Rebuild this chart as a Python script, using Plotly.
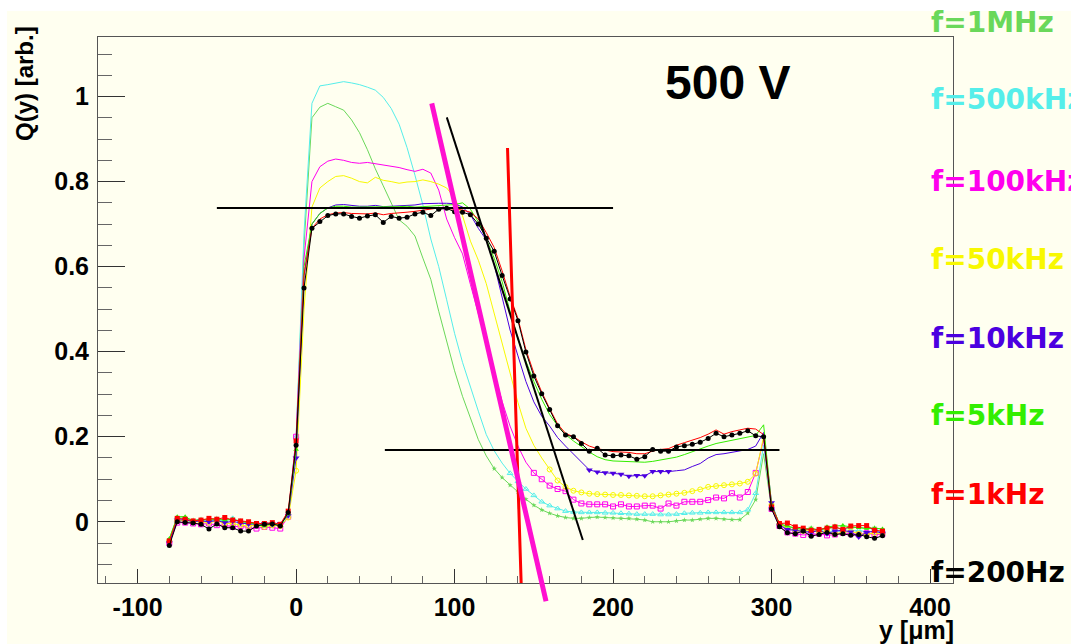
import plotly.graph_objects as go

# ---------------- data ----------------
y_um = list(range(-80, 371, 5))  # scan positions, 5 um step

q_200Hz = [-0.056, 0.000, -0.002, -0.003, -0.006, -0.017, -0.005, -0.014, -0.014, -0.022, -0.022, -0.010, -0.006, -0.005, -0.010, 0.022,
           0.180, 0.550, 0.690, 0.706, 0.720, 0.724, 0.724, 0.718, 0.714, 0.719, 0.722, 0.704, 0.718, 0.714, 0.716, 0.724, 0.728, 0.720, 0.735, 0.737, 0.729, 0.728, 0.722, 0.700,
           0.667, 0.636, 0.579, 0.524, 0.473, 0.399, 0.343, 0.301, 0.264, 0.226, 0.204, 0.200, 0.184, 0.166, 0.173, 0.157,
           0.155, 0.157, 0.155, 0.147, 0.153, 0.170, 0.166, 0.166, 0.176, 0.179, 0.182, 0.187, 0.196, 0.208, 0.200, 0.204, 0.208, 0.214, 0.202, 0.200,
           0.030, -0.012, -0.026, -0.028, -0.022, -0.034, -0.030, -0.025, -0.030, -0.028, -0.032, -0.030, -0.035, -0.039, -0.033]

q_1kHz = [-0.045, 0.008, 0.006, 0.002, 0.004, 0.008, 0.006, 0.010, 0.004, 0.002, 0.000, -0.004, -0.004, -0.002, -0.006, 0.025,
          0.190, 0.580, 0.690, 0.712, 0.722, 0.726, 0.727, 0.725, 0.725, 0.724, 0.726, 0.722, 0.725, 0.726, 0.728, 0.730, 0.733, 0.735, 0.738, 0.737, 0.735, 0.733, 0.728, 0.712,
          0.680, 0.645, 0.590, 0.530, 0.478, 0.405, 0.350, 0.305, 0.266, 0.230, 0.208, 0.200, 0.188, 0.178, 0.172, 0.168,
          0.165, 0.164, 0.163, 0.160, 0.160, 0.166, 0.170, 0.172, 0.180, 0.186, 0.192, 0.198, 0.206, 0.216, 0.206, 0.212, 0.216, 0.220, 0.218, 0.205,
          0.035, -0.004, -0.003, -0.012, -0.015, -0.020, -0.018, -0.015, -0.012, -0.018, -0.010, -0.009, -0.009, -0.020, -0.022]

q_5kHz = [-0.040, 0.012, 0.012, 0.002, 0.004, 0.006, 0.006, 0.004, 0.006, 0.000, -0.002, -0.006, -0.010, -0.003, -0.008, 0.018,
          0.170, 0.600, 0.700, 0.725, 0.738, 0.742, 0.742, 0.740, 0.740, 0.741, 0.740, 0.740, 0.740, 0.741, 0.742, 0.740, 0.741, 0.742, 0.743, 0.744, 0.746, 0.750, 0.735, 0.705,
          0.665, 0.620, 0.565, 0.495, 0.430, 0.378, 0.330, 0.288, 0.252, 0.226, 0.205, 0.190, 0.176, 0.164, 0.153, 0.146,
          0.143, 0.142, 0.141, 0.140, 0.140, 0.142, 0.145, 0.148, 0.152, 0.158, 0.165, 0.172, 0.178, 0.184, 0.188, 0.192, 0.196, 0.200, 0.203, 0.228,
          0.040, -0.005, -0.010, -0.015, -0.018, -0.016, -0.020, -0.012, -0.010, -0.009, -0.012, -0.014, -0.016, -0.015, -0.017]

q_10kHz = [-0.050, 0.004, 0.005, 0.000, 0.002, 0.000, 0.003, -0.002, 0.001, -0.003, -0.005, -0.006, -0.004, -0.006, -0.004, 0.015,
           0.150, 0.580, 0.700, 0.725, 0.738, 0.745, 0.746, 0.744, 0.742, 0.742, 0.744, 0.741, 0.742, 0.742, 0.744, 0.745, 0.748, 0.749, 0.749, 0.749, 0.748, 0.740, 0.722, 0.690,
           0.663, 0.605, 0.528, 0.451, 0.390, 0.330, 0.282, 0.248, 0.225, 0.198, 0.178, 0.160, 0.140, 0.122, 0.117, 0.115,
           0.114, 0.112, 0.107, 0.109, 0.108, 0.118, 0.118, 0.118, 0.120, 0.122, 0.130, 0.137, 0.150, 0.158, 0.160, 0.163, 0.166, 0.170, 0.178, 0.210,
           0.045, -0.008, -0.018, -0.020, -0.022, -0.025, -0.020, -0.028, -0.022, -0.020, -0.024, -0.036, -0.025, -0.022, -0.027]

q_50kHz = [-0.045, 0.002, 0.004, 0.000, 0.000, -0.002, 0.002, -0.004, -0.004, -0.008, -0.010, -0.008, -0.012, -0.008, -0.010, 0.010,
           0.120, 0.500, 0.740, 0.785, 0.800, 0.812, 0.814, 0.808, 0.800, 0.797, 0.810, 0.803, 0.800, 0.796, 0.799, 0.800, 0.804, 0.800, 0.794, 0.785, 0.762, 0.720, 0.660, 0.615,
           0.560, 0.490, 0.415, 0.345, 0.280, 0.220, 0.180, 0.150, 0.123, 0.097, 0.082, 0.073, 0.069, 0.066, 0.065, 0.064,
           0.063, 0.063, 0.062, 0.061, 0.060, 0.060, 0.062, 0.064, 0.066, 0.068, 0.072, 0.076, 0.082, 0.084, 0.086, 0.088, 0.090, 0.094, 0.113, 0.200,
           0.040, -0.005, -0.015, -0.020, -0.022, -0.020, -0.025, -0.022, -0.028, -0.025, -0.022, -0.028, -0.030, -0.026, -0.028]

q_100kHz = [-0.050, -0.002, -0.002, -0.004, -0.006, -0.004, -0.008, -0.008, -0.012, -0.010, -0.014, -0.016, -0.012, -0.014, -0.016, 0.012,
            0.200, 0.620, 0.800, 0.835, 0.848, 0.853, 0.850, 0.845, 0.843, 0.845, 0.842, 0.838, 0.836, 0.833, 0.828, 0.824, 0.829, 0.820, 0.780, 0.712, 0.668, 0.630, 0.558, 0.490,
            0.425, 0.352, 0.283, 0.225, 0.178, 0.140, 0.115, 0.100, 0.085, 0.077, 0.072, 0.052, 0.043, 0.041, 0.041, 0.041,
            0.036, 0.041, 0.036, 0.036, 0.038, 0.038, 0.031, 0.043, 0.038, 0.047, 0.047, 0.047, 0.051, 0.057, 0.055, 0.067, 0.057, 0.070, 0.115, 0.194,
            0.030, -0.010, -0.025, -0.028, -0.031, -0.030, -0.028, -0.032, -0.030, -0.026, -0.028, -0.030, -0.027, -0.030, -0.029]

q_500kHz = [-0.045, 0.004, 0.002, 0.000, 0.003, 0.002, 0.004, 0.002, 0.008, -0.002, -0.004, -0.004, -0.006, -0.006, -0.008, 0.014,
            0.200, 0.680, 0.984, 1.025, 1.028, 1.032, 1.035, 1.032, 1.028, 1.022, 1.015, 0.998, 0.972, 0.935, 0.880, 0.815, 0.745, 0.665, 0.600, 0.522, 0.443, 0.375, 0.315, 0.260,
            0.205, 0.167, 0.138, 0.114, 0.095, 0.077, 0.062, 0.047, 0.038, 0.031, 0.025, 0.023, 0.022, 0.022, 0.022, 0.021,
            0.021, 0.020, 0.019, 0.018, 0.018, 0.018, 0.017, 0.017, 0.018, 0.020, 0.021, 0.021, 0.022, 0.022, 0.022, 0.022, 0.022, 0.028, 0.067, 0.180,
            0.035, -0.006, -0.015, -0.022, -0.020, -0.024, -0.018, -0.025, -0.020, -0.024, -0.022, -0.020, -0.024, -0.022, -0.024]

q_1MHz = [-0.040, 0.010, 0.008, 0.004, 0.006, 0.004, 0.008, 0.004, 0.006, 0.002, -0.002, -0.004, -0.006, -0.010, -0.006, 0.015,
          0.190, 0.650, 0.950, 0.975, 0.984, 0.976, 0.968, 0.945, 0.915, 0.875, 0.830, 0.790, 0.750, 0.710, 0.695, 0.672, 0.620, 0.570, 0.495, 0.425, 0.355, 0.295, 0.245, 0.193,
          0.155, 0.125, 0.104, 0.086, 0.070, 0.053, 0.039, 0.028, 0.020, 0.014, 0.010, 0.008, 0.008, 0.010, 0.011, 0.010,
          0.009, 0.008, 0.008, 0.006, 0.004, 0.000, 0.000, 0.000, 0.002, 0.004, 0.004, 0.006, 0.008, 0.008, 0.006, 0.005, 0.005, 0.020, 0.052, 0.160,
          0.030, -0.004, -0.012, -0.015, -0.018, -0.014, -0.020, -0.016, -0.014, -0.018, -0.015, -0.012, -0.016, -0.014, -0.018]

labels = ["f=1MHz", "f=500kHz", "f=100kHz", "f=50kHz", "f=10kHz", "f=5kHz", "f=1kHz", "f=200Hz"]
series = [q_1MHz, q_500kHz, q_100kHz, q_50kHz, q_10kHz, q_5kHz, q_1kHz, q_200Hz]

# straight reference lines (end points)
plateau_x = [-50, 200]
plateau_q = [0.738, 0.738]
floor_x = [56, 305]
floor_q = [0.169, 0.169]
slope_black_x = [95.1, 180.9]
slope_black_q = [0.951, -0.043]
edge_red_x = [133.4, 142.0]
edge_red_q = [0.879, -0.144]
slope_mag_x = [85.6, 157.7]
slope_mag_q = [0.984, -0.187]

x_tickvals = [-100, 0, 100, 200, 300, 400]
x_ticktext = ["-100", "0", "100", "200", "300", "400"]

# ---------------- styles ----------------
colors = ["#6ad85a", "#55eeea", "#ff00ee", "#f8f800", "#4b00e0", "#33ee00", "#ff0000", "#000000"]
symbols = ["star", "triangle-up-open", "square-open", "circle-open", "triangle-down", "triangle-up", "square", "circle"]
msizes = [4, 5, 5, 5, 6, 5, 5, 5]
mlinew = [0, 1, 1, 1, 0, 0, 0, 0]
# x-window in the middle of the scan where markers are drawn (tails always have markers)
mwin = [(125, 290), (135, 290), (150, 290), (160, 290), (185, 235), None, None, (-80, 370)]

W, H = 1071, 644
ML, MR, MT, MB = 98, 118, 37, 30
FRAME_BOTTOM = 583
plot_h = H - MT - MB
xr = [-125, 414.5]
yr = [-0.144, 1.140]
ydom0 = (H - MB - FRAME_BOTTOM) / plot_h
ppu = (FRAME_BOTTOM - MT) / (yr[1] - yr[0])
yr2 = [yr[0] - (H - MB - FRAME_BOTTOM) / ppu, yr[1]]


def px(xp):
    return (xp - ML) / (W - ML - MR)


def py(yp):
    return (H - MB - yp) / plot_h


fig = go.Figure()

for lab, q, col, sym, ms, mlw, win in zip(labels, series, colors, symbols, msizes, mlinew, mwin):
    fig.add_trace(go.Scatter(x=y_um, y=q, mode="lines", line=dict(color=col, width=1),
                             showlegend=False, hoverinfo="skip"))
    mx, my = [], []
    for xv, qv in zip(y_um, q):
        inwin = win is not None and win[0] <= xv <= win[1]
        if xv <= 0 or xv >= 300 or inwin:
            mx.append(xv)
            my.append(qv)
    mk = dict(symbol=sym, size=ms, color=col, line=dict(color=col, width=mlw))
    fig.add_trace(go.Scatter(x=mx, y=my, mode="markers", marker=mk,
                             showlegend=False, hoverinfo="skip"))

for lx, lq, col, wd in [(plateau_x, plateau_q, "#000000", 2),
                        (floor_x, floor_q, "#000000", 2),
                        (slope_black_x, slope_black_q, "#000000", 2),
                        (edge_red_x, edge_red_q, "#ff0000", 3),
                        (slope_mag_x, slope_mag_q, "#ff10d0", 5)]:
    fig.add_trace(go.Scatter(x=lx, y=lq, mode="lines", line=dict(color=col, width=wd),
                             yaxis="y2", showlegend=False, hoverinfo="skip"))

cream = "#fffff0"
tickfont = dict(family="Liberation Sans, Arial, sans-serif", size=25, color="#000000", weight="bold")

fig.update_layout(
    width=W, height=H, autosize=False,
    margin=dict(l=ML, r=MR, t=MT, b=MB, pad=0),
    paper_bgcolor=cream, plot_bgcolor="rgba(0,0,0,0)",
    xaxis=dict(range=xr, showgrid=False, zeroline=False, showline=True, linecolor="#555555", linewidth=1,
               mirror=True, ticks="inside", ticklen=14, tickwidth=1, tickcolor="#333333",
               tickmode="array", tickvals=x_tickvals, ticktext=x_ticktext, tickfont=tickfont,
               ticklabelstandoff=2,
               minor=dict(ticks="inside", ticklen=7, tickwidth=1, tickcolor="#666666", tickmode="linear", tick0=0, dtick=20),
               anchor="y"),
    yaxis=dict(range=yr, domain=[ydom0, 1], showgrid=False, zeroline=False, showline=True, linecolor="#555555",
               linewidth=1, mirror=True, ticks="inside", ticklen=27, tickwidth=1, tickcolor="#333333",
               tick0=0, dtick=0.2, tickfont=tickfont, ticklabelstandoff=3,
               minor=dict(ticks="inside", ticklen=14, tickwidth=1, tickcolor="#666666", tick0=0, dtick=0.05),
               anchor="x"),
    yaxis2=dict(range=yr2, domain=[0, 1], anchor="x", visible=False, showgrid=False, zeroline=False),
)

ann = []
ann.append(dict(text="500 V", x=px(727), y=py(82), xref="paper", yref="paper", showarrow=False,
                xanchor="center", yanchor="middle",
                font=dict(family="Liberation Sans, Arial", size=48, color="#000000", weight="bold")))
leg_y = [22, 100, 181, 259, 338, 415, 494, 572]
for lab, col, yy in zip(labels, colors, leg_y):
    ann.append(dict(text=lab, x=px(929), y=py(yy), xref="paper", yref="paper", showarrow=False,
                    xanchor="left", yanchor="middle",
                    font=dict(family="DejaVu Sans", size=28, color=col, weight="bold")))
ann.append(dict(text="Q(y) [arb.]", x=px(25), y=py(84), xref="paper", yref="paper", showarrow=False,
                xanchor="center", yanchor="middle", textangle=-90,
                font=dict(family="Liberation Sans, Arial", size=24, color="#000000", weight="bold")))
ann.append(dict(text="y [μm]", x=px(956), y=py(630), xref="paper", yref="paper", showarrow=False,
                xanchor="right", yanchor="middle",
                font=dict(family="Liberation Sans, Arial", size=25, color="#000000", weight="bold")))
fig.update_layout(annotations=ann)

# white margin strips at the top and left of the canvas
fig.update_layout(shapes=[
    dict(type="rect", xref="paper", yref="paper", x0=px(-5), x1=px(7), y0=py(H + 5), y1=py(-5),
         fillcolor="#ffffff", line=dict(width=0), layer="below"),
    dict(type="rect", xref="paper", yref="paper", x0=px(-5), x1=px(W + 5), y0=py(11), y1=py(-5),
         fillcolor="#ffffff", line=dict(width=0), layer="below"),
])

fig.write_html("out.html")
